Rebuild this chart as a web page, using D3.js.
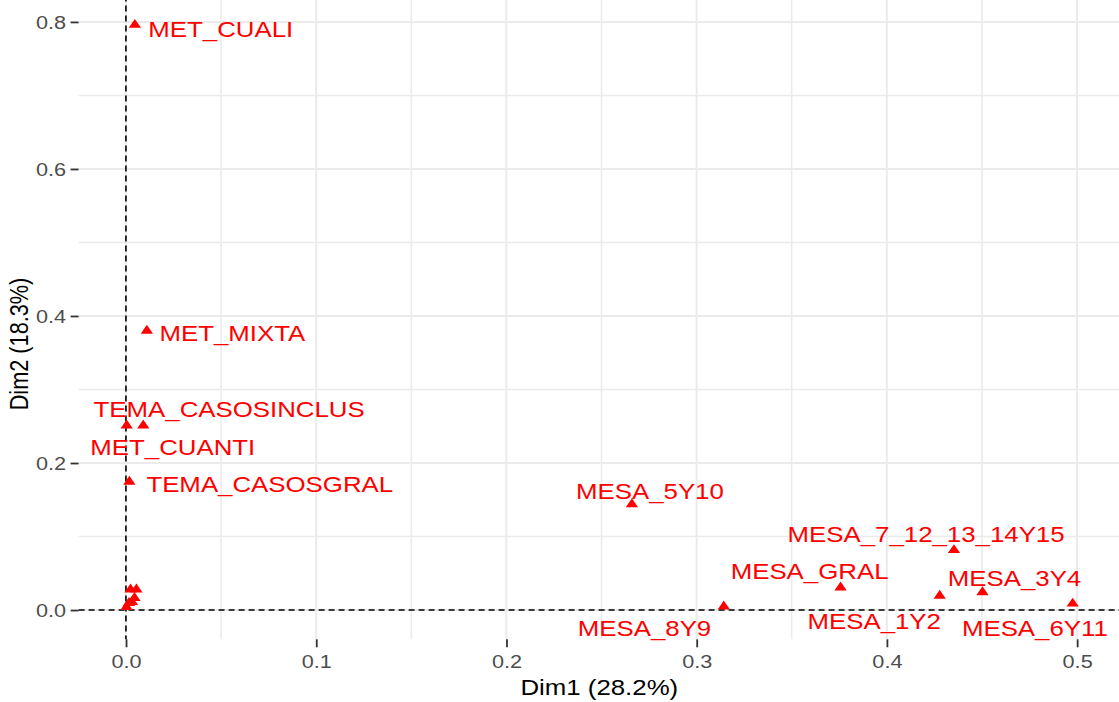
<!DOCTYPE html>
<html>
<head>
<meta charset="utf-8">
<script src="https://cdn.jsdelivr.net/npm/d3@7"></script>
<style>
  html, body { margin: 0; padding: 0; background: #fff; overflow: hidden; }
  svg { display: block; }
  text { font-family: "Liberation Sans", Arial, sans-serif; }
</style>
</head>
<body>
<svg id="chart"></svg>
<script>
// Category coordinates on the first two dimensions
const categories = [
  "MET_CUALI", "MET_MIXTA", "TEMA_CASOSINCLUS", "MET_CUANTI", "TEMA_CASOSGRAL",
  "MESA_5Y10", "MESA_7_12_13_14Y15", "MESA_GRAL", "MESA_3Y4", "MESA_1Y2",
  "MESA_6Y11", "MESA_8Y9",
  "", "", "", "", "", ""
];
const dim1 = [
  0.0047, 0.0110, 0.0091, 0.0004, 0.0018,
  0.2660, 0.4353, 0.3757, 0.4503, 0.4278,
  0.4977, 0.3143,
  0.0024, 0.0055, 0.0045, 0.0016, 0.0032, 0.0003
];
const dim2 = [
  0.796, 0.380, 0.251, 0.251, 0.1746,
  0.144, 0.0815, 0.0306, 0.0242, 0.0195,
  0.0087, 0.0049,
  0.0279, 0.0279, 0.0163, 0.0095, 0.0109, 0.0041
];
const xTicks = [0, 0.1, 0.2, 0.3, 0.4, 0.5];
const yTicks = [0, 0.2, 0.4, 0.6, 0.8];
const xTitle = "Dim1 (28.2%)";
const yTitle = "Dim2 (18.3%)";

// Label placement (offset from point to label centre / baseline, screen px)
const labelOffset = [
  [85.9, 11.7], [85.5, 10], [85.9, -8.8], [46.1, 29.5], [140.4, 10],
  [18, -5], [-27.9, -7.9], [-31, -8.9], [32, -6.4], [-65.5, 32.9],
  [-37.8, 32.1], [-79.3, 29.3]
];

const W = 1119, H = 702;
const S = 1.19;            // horizontal stretch of the drawing
const IW = W / S;          // inner (unstretched) width

const panel = { left: 78.6, right: 1120, top: -4.4, bottom: 639.3 };

const svg = d3.select("#chart")
  .attr("width", W).attr("height", H)
  .attr("viewBox", `0 0 ${IW} ${H}`)
  .attr("preserveAspectRatio", "none");

// Data ranges (including the origin) with 5% expansion
const pad = (lo, hi) => { const e = (hi - lo) * 0.05; return [lo - e, hi + e]; };
const xExt = d3.extent(dim1.concat([0]));
const yExt = d3.extent(dim2.concat([0]));

const x = d3.scaleLinear().domain(pad(xExt[0], xExt[1]))
  .range([panel.left / S, panel.right / S]);
const y = d3.scaleLinear().domain(pad(yExt[0], yExt[1]))
  .range([panel.bottom, panel.top]);

const gridCol = "#ebebeb";
const g = svg.append("g");

// Minor grid
const xMinor = d3.range(0.05, 0.55, 0.1).filter(v => v > x.domain()[0] && v < x.domain()[1]);
const yMinor = d3.range(0.1, 0.8, 0.2).filter(v => v > y.domain()[0] && v < y.domain()[1]);
g.selectAll(".xminor").data(xMinor).join("line")
  .attr("x1", d => x(d)).attr("x2", d => x(d))
  .attr("y1", panel.top).attr("y2", panel.bottom)
  .attr("stroke", gridCol).attr("stroke-width", 1.6)
  .attr("vector-effect", "non-scaling-stroke");
g.selectAll(".yminor").data(yMinor).join("line")
  .attr("x1", panel.left / S).attr("x2", panel.right / S)
  .attr("y1", d => y(d)).attr("y2", d => y(d))
  .attr("stroke", gridCol).attr("stroke-width", 1.6)
  .attr("vector-effect", "non-scaling-stroke");

// Major grid
g.selectAll(".xmajor").data(xTicks).join("line")
  .attr("x1", d => x(d)).attr("x2", d => x(d))
  .attr("y1", panel.top).attr("y2", panel.bottom)
  .attr("stroke", gridCol).attr("stroke-width", 2)
  .attr("vector-effect", "non-scaling-stroke");
g.selectAll(".ymajor").data(yTicks).join("line")
  .attr("x1", panel.left / S).attr("x2", panel.right / S)
  .attr("y1", d => y(d)).attr("y2", d => y(d))
  .attr("stroke", gridCol).attr("stroke-width", 2)
  .attr("vector-effect", "non-scaling-stroke");

// Axes
const fmt = d3.format(".1f");
const xAxis = svg.append("g")
  .attr("transform", `translate(0,${panel.bottom})`)
  .call(d3.axisBottom(x).tickValues(xTicks).tickFormat(fmt).tickSize(8).tickPadding(0));
xAxis.select(".domain").remove();
xAxis.selectAll(".tick line").attr("stroke", "#333").attr("stroke-width", 1.8)
  .attr("vector-effect", "non-scaling-stroke");
xAxis.selectAll(".tick text")
  .attr("y", 668 - panel.bottom).attr("dy", null)
  .attr("fill", "#4d4d4d").attr("font-size", 18.2);

const yAxis = svg.append("g")
  .attr("transform", `translate(${panel.left / S},0)`)
  .call(d3.axisLeft(y).tickValues(yTicks).tickFormat(fmt).tickSize(8 / S).tickPadding(0));
yAxis.select(".domain").remove();
yAxis.selectAll(".tick line").attr("stroke", "#333").attr("stroke-width", 1.8)
  .attr("vector-effect", "non-scaling-stroke");
yAxis.selectAll(".tick text")
  .attr("x", (66 - panel.left) / S).attr("dy", "0.36em")
  .attr("fill", "#4d4d4d").attr("font-size", 18.2);

// Reference lines through the origin
svg.append("line")
  .attr("x1", x(0)).attr("x2", x(0)).attr("y1", panel.top).attr("y2", panel.bottom)
  .attr("stroke", "#000").attr("stroke-width", 1.6).attr("stroke-dasharray", "6,4")
  .attr("vector-effect", "non-scaling-stroke");
svg.append("line")
  .attr("x1", panel.left / S).attr("x2", panel.right / S).attr("y1", y(0)).attr("y2", y(0))
  .attr("stroke", "#000").attr("stroke-width", 1.6).attr("stroke-dasharray", "6,4")
  .attr("vector-effect", "non-scaling-stroke");

// Points
const pts = categories.map((c, i) => ({ name: c, x: dim1[i], y: dim2[i], off: labelOffset[i] }));
const tri = d3.symbol().type(d3.symbolTriangle).size(46);
svg.append("g").selectAll("path").data(pts).join("path")
  .attr("d", tri)
  .attr("transform", d => `translate(${x(d.x)},${y(d.y)})`)
  .attr("fill", "#ff0000");

// Labels
svg.append("g").selectAll("text").data(pts.filter(d => d.name && d.off)).join("text")
  .attr("x", d => x(d.x) + d.off[0] / S)
  .attr("y", d => y(d.y) + d.off[1])
  .attr("text-anchor", "middle")
  .attr("font-size", 21.7)
  .attr("fill", "#ff0000")
  .text(d => d.name);

// Axis titles
svg.append("text")
  .attr("x", ((panel.left + panel.right) / 2) / S).attr("y", 695)
  .attr("text-anchor", "middle").attr("font-size", 21.7).attr("fill", "#000")
  .text(xTitle);
svg.append("text")
  .attr("transform", `translate(${28 / S},344) rotate(-90)`)
  .attr("text-anchor", "middle").attr("font-size", 21.7).attr("fill", "#000")
  .text(yTitle);
</script>
</body>
</html>
